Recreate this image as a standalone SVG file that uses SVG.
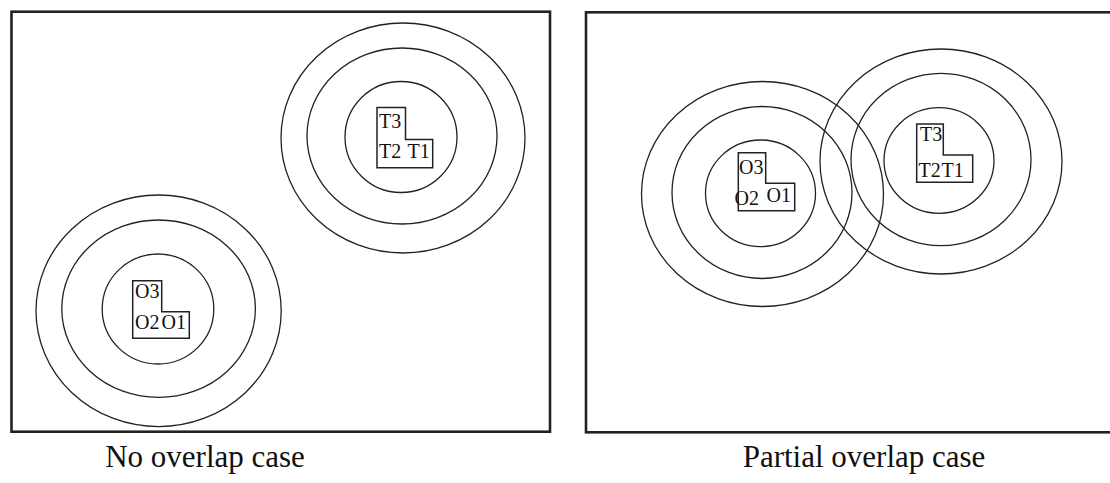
<svg xmlns="http://www.w3.org/2000/svg" width="1110" height="483" viewBox="0 0 1110 483">
  <style>
    .frame { fill: none; stroke: #222; stroke-width: 2.6; }
    .ring { fill: none; stroke: #222; stroke-width: 1.3; }
    .shape { fill: #fff; stroke: #222; stroke-width: 1.5; }
    .lbl { font-family: "Liberation Serif", "Times New Roman", serif; font-size: 20px; fill: #111; }
    .cap { font-family: "Liberation Serif", "Times New Roman", serif; font-size: 31px; fill: #111; text-anchor: middle; }
  </style>
  <rect width="1110" height="483" fill="#fff"/>

  <!-- Left panel: no overlap -->
  <g id="panel-no-overlap">
    <rect class="frame" x="11.5" y="11.7" width="538.5" height="420"/>

    <g id="target-zone">
      <ellipse class="ring" cx="403" cy="138" rx="122" ry="115"/>
      <ellipse class="ring" cx="402" cy="136" rx="95" ry="88"/>
      <ellipse class="ring" cx="401" cy="137" rx="56" ry="55.5"/>
      <path class="shape" d="M377,107.5 H405.5 V139.5 H432.7 V167.7 H377 Z"/>
      <text class="lbl" x="379" y="128">T3</text>
      <text class="lbl" x="379" y="158">T2</text>
      <text class="lbl" x="407.5" y="158">T1</text>
    </g>

    <g id="own-zone">
      <ellipse class="ring" cx="158.6" cy="310.8" rx="122.6" ry="115.8"/>
      <ellipse class="ring" cx="158.6" cy="308.7" rx="96.8" ry="88.7"/>
      <ellipse class="ring" cx="158" cy="309" rx="55.8" ry="55"/>
      <path class="shape" d="M132.7,280.7 H161.7 V311.7 H189.3 V338.3 H132.7 Z"/>
      <text class="lbl" x="135" y="297.5">O3</text>
      <text class="lbl" x="135" y="328.5">O2</text>
      <text class="lbl" x="161.5" y="328.5">O1</text>
    </g>
  </g>

  <!-- Right panel: partial overlap -->
  <g id="panel-partial-overlap">
    <rect class="frame" x="586" y="12.3" width="530" height="420"/>

    <g id="own-zone-2">
      <ellipse class="ring" cx="762.5" cy="194" rx="121" ry="112.5"/>
      <ellipse class="ring" cx="762" cy="192.5" rx="90" ry="86"/>
      <ellipse class="ring" cx="760.5" cy="193.3" rx="55" ry="53.3"/>
      <path class="shape" d="M738.3,152.7 H765.7 V183.3 H794.7 V210.7 H738.3 Z"/>
      <text class="lbl" x="739" y="174">O3</text>
      <text class="lbl" x="734.5" y="204.5">O2</text>
      <text class="lbl" x="766.5" y="201.7">O1</text>
    </g>

    <g id="target-zone-2">
      <ellipse class="ring" cx="941" cy="161.5" rx="121" ry="112.5"/>
      <ellipse class="ring" cx="941" cy="159.5" rx="90" ry="86.2"/>
      <ellipse class="ring" cx="939" cy="160.5" rx="55" ry="52.8"/>
      <path class="shape" d="M916.7,124 H943.3 V155 H972.7 V182.3 H916.7 Z"/>
      <text class="lbl" x="920" y="141">T3</text>
      <text class="lbl" x="918.5" y="176.7">T2</text>
      <text class="lbl" x="941.5" y="176.7">T1</text>
    </g>
  </g>

  <!-- Captions -->
  <g id="captions">
    <text class="cap" x="205" y="467">No overlap case</text>
    <text class="cap" x="864" y="467">Partial overlap case</text>
  </g>
</svg>
